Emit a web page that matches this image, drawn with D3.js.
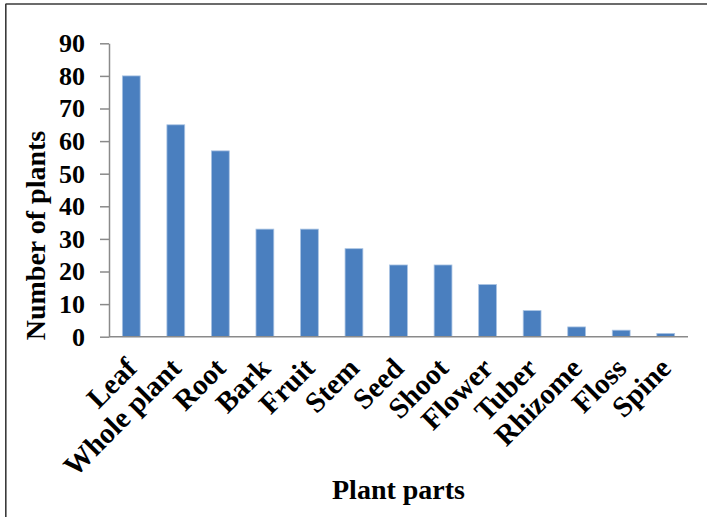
<!DOCTYPE html>
<html>
<head>
<meta charset="utf-8">
<script src="https://cdn.jsdelivr.net/npm/d3@7"></script>
<style>
  html, body { margin: 0; padding: 0; background: #ffffff; }
  svg { display: block; }
  text { font-family: "Liberation Serif", "Times New Roman", serif; font-weight: bold; fill: #000; }
</style>
</head>
<body>
<script>
// Plant parts used and how many plants each is reported for
const parts = ["Leaf", "Whole plant", "Root", "Bark", "Fruit", "Stem", "Seed", "Shoot", "Flower", "Tuber", "Rhizome", "Floss", "Spine"];
const plantCounts = [80, 65, 57, 33, 33, 27, 22, 22, 16, 8, 3, 2, 1];
const yTicks = [0, 10, 20, 30, 40, 50, 60, 70, 80, 90];

const W = 707, H = 517;
const plot = { left: 109, right: 688, top: 43.3, bottom: 336.7 };

const svg = d3.select("body").append("svg")
  .attr("width", W)
  .attr("height", H);

// outer frame (top and left edges visible)
svg.append("line")
  .attr("x1", 5.5).attr("x2", W).attr("y1", 4).attr("y2", 4)
  .attr("stroke", "#3a3a3a").attr("stroke-width", 1.6);
svg.append("line")
  .attr("x1", 5.8).attr("x2", 5.8).attr("y1", 4).attr("y2", H)
  .attr("stroke", "#3a3a3a").attr("stroke-width", 1.6);

const x = d3.scaleBand()
  .domain(parts)
  .range([plot.left, plot.right])
  .paddingInner(0.6)
  .paddingOuter(0.3);

const y = d3.scaleLinear()
  .domain([0, 90])
  .range([plot.bottom, plot.top]);

// bars
svg.append("g")
  .selectAll("rect")
  .data(parts)
  .join("rect")
  .attr("x", d => x(d))
  .attr("y", (d, i) => y(plantCounts[i]))
  .attr("width", x.bandwidth())
  .attr("height", (d, i) => y(0) - y(plantCounts[i]))
  .attr("fill", "#4a7fbf")
  .attr("stroke", "#a9c3e3")
  .attr("stroke-width", 0.8);

// y axis
const yAxis = svg.append("g")
  .attr("transform", `translate(${plot.left},0)`)
  .call(d3.axisLeft(y).tickValues(yTicks).tickSize(9).tickPadding(15).tickSizeOuter(0));
yAxis.select(".domain").attr("stroke", "#8a8a8a").attr("stroke-width", 1.5);
yAxis.selectAll(".tick line").attr("stroke", "#8a8a8a").attr("stroke-width", 1.5);
yAxis.selectAll(".tick text")
  .attr("font-size", 26)
  .attr("font-family", "Liberation Serif, Times New Roman, serif")
  .attr("font-weight", "bold")
  .attr("fill", "#000");

// x axis baseline
svg.append("line")
  .attr("x1", plot.left).attr("x2", plot.right)
  .attr("y1", y(0)).attr("y2", y(0))
  .attr("stroke", "#8a8a8a").attr("stroke-width", 1.5);

// category labels, slanted
svg.append("g")
  .selectAll("text")
  .data(parts)
  .join("text")
  .attr("transform", d => `translate(${x(d) + x.bandwidth() / 2 + 7},370) rotate(-45)`)
  .attr("text-anchor", "end")
  .attr("font-size", 29)
  .text(d => d);

// axis titles
svg.append("text")
  .attr("x", (plot.left + plot.right) / 2)
  .attr("y", 499)
  .attr("text-anchor", "middle")
  .attr("font-size", 28)
  .text("Plant parts");

svg.append("text")
  .attr("transform", "translate(45,235.5) rotate(-90)")
  .attr("text-anchor", "middle")
  .attr("font-size", 28)
  .text("Number of plants");
</script>
</body>
</html>
